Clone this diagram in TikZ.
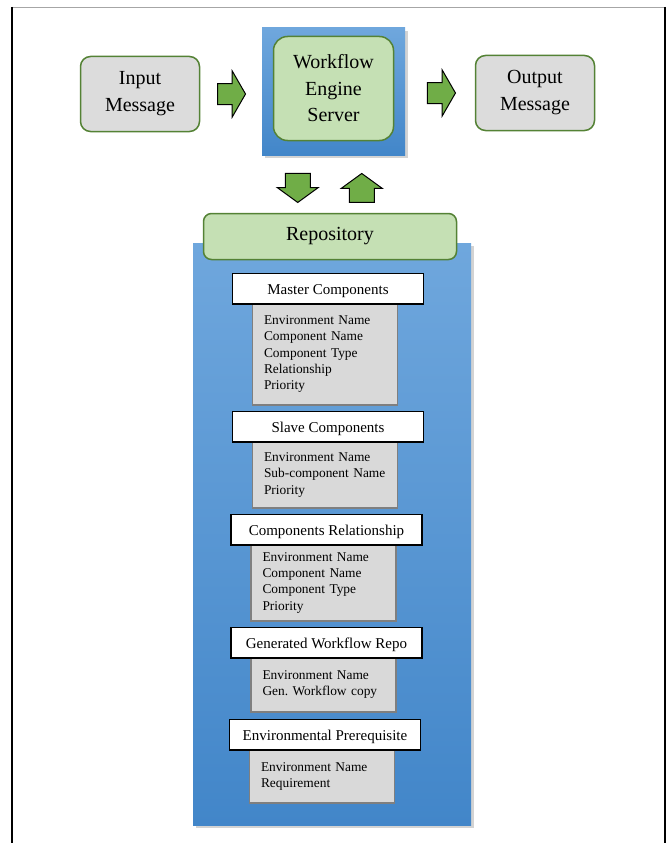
\documentclass[tikz,border=0pt]{standalone}
\usepackage{fontspec}
\setmainfont{Liberation Serif}
\usepackage{xcolor}
\usetikzlibrary{positioning, calc, shapes.arrows, shadows}
\definecolor{framegreen}{HTML}{548235}
\definecolor{softgreen}{HTML}{C5E0B4}
\definecolor{arrowgreen}{HTML}{70AD47}
\definecolor{msggray}{HTML}{DCDCDC}
\definecolor{fieldgray}{HTML}{D9D9D9}
\definecolor{fieldborder}{HTML}{7F7F7F}
\definecolor{bluetop}{HTML}{6FA7DD}
\definecolor{bluemid}{HTML}{5498D8}
\definecolor{bluebot}{HTML}{4286C9}
\frenchspacing

\begin{document}
\begin{tikzpicture}[
        x=1pt, y=-1pt,
        msg/.style={draw=framegreen, fill=msggray, line width=1.5pt, rounded corners=10pt, minimum width=119pt, minimum height=75pt, align=center, font=\fontsize{20}{27}\selectfont},
        engine/.style={draw=framegreen, fill=softgreen, line width=1.5pt, rounded corners=14pt, minimum width=120pt, minimum height=104pt, align=center, font=\fontsize{20}{26.5}\selectfont},
        bluepanel/.style={draw=none, top color=bluetop, middle color=bluemid, bottom color=bluebot, drop shadow={shadow xshift=3pt, shadow yshift=-3pt, opacity=0.35}},
        repohead/.style={draw=framegreen, fill=softgreen, line width=1.5pt, rounded corners=8pt, minimum width=253pt, minimum height=46pt, font=\fontsize{20}{24}\selectfont},
        header/.style={draw=black, fill=white, line width=1.5pt, minimum width=191pt, minimum height=30.5pt, text height=11pt, text depth=0pt, font=\fontsize{15}{18}\selectfont},
        field/.style={draw=fieldborder, fill=fieldgray, line width=1.5pt, minimum width=145pt, text width=122pt, align=left, inner xsep=0pt, anchor=north, font=\fontsize{13.4}{16.3}\selectfont},
        harrow/.style={single arrow, anchor=tail, draw=black, fill=arrowgreen, line width=1pt, minimum height=28pt, inner xsep=0pt, inner ysep=10pt, single arrow head extend=12.5pt, single arrow tip angle=120},
        varrow/.style={single arrow, anchor=tail, draw=black, fill=arrowgreen, line width=1pt, minimum height=29pt, inner xsep=0pt, inner ysep=12pt, single arrow head extend=8pt, single arrow tip angle=108}
    ]
        \useasboundingbox (0,0) rectangle (670,843);
        % page frame
        \draw[black!35, line width=0.6pt] (12,7) -- (665,7);
        \draw[line width=1.5pt] (12,7) -- (12,843);
        \draw[line width=1.5pt] (665,7) -- (665,843);

        % top row
        \node[bluepanel, minimum width=143pt, minimum height=127pt] (serverbg) at (333.5,91.5) {};
        \node[engine] (server) at (333.5,88.5) {Workflow\\Engine\\Server};
        \node[msg] (input) at (140,94) {Input\\Message};
        \node[msg] (output) at (535,93) {Output\\Message};

        \node[harrow] (toserver) at ([xshift=-14pt]$(input.east)!0.5!(input.east -| serverbg.west)$) {};
        \node[harrow] (tooutput) at ([xshift=-13pt]$(output.west)!0.5!(output.west -| serverbg.east)$) {};

        % repository
        \node[bluepanel, minimum width=278pt, minimum height=582pt] (repobg) at (332,534) {};
        \node[repohead] (repo) at (330,236.5) {Repository};

        \coordinate (downpos) at ([xshift=-34pt, yshift=11pt]$(serverbg.south)!0.5!(repo.north)$);
        \coordinate (uppos) at ([xshift=30pt, yshift=-19pt]$(serverbg.south)!0.5!(repo.north)$);
        \node[varrow, rotate=-90] (torepo) at (downpos) {};
        \node[varrow, rotate=90] (fromrepo) at (uppos) {};

        % tables
        \node[field, minimum height=101pt] (masterf) at (325,303) {Environment Name\\Component Name\\Component Type\\Relationship\\Priority};
        \node[field, minimum height=66pt] (slavef) at (325,441) {Environment Name\\Sub-component Name\\Priority};
        \node[field, minimum height=76pt] (relf) at (323.5,544) {Environment Name\\Component Name\\Component Type\\Priority};
        \node[field, minimum height=54pt] (genf) at (323.5,657) {Environment Name\\Gen. Workflow copy};
        \node[field, minimum height=53pt] (prereqf) at (322,749) {Environment Name\\Requirement};

        \node[header, above=-1.5pt of masterf, xshift=3pt] (master) {Master Components};
        \node[header, above=-1.5pt of slavef, xshift=3pt] (slave) {Slave Components};
        \node[header, above=-1.5pt of relf, xshift=3pt] (rel) {Components Relationship};
        \node[header, above=-1.5pt of genf, xshift=3pt] (gen) {Generated Workflow Repo};
        \node[header, above=-1.5pt of prereqf, xshift=3pt] (prereq) {Environmental Prerequisite};
    \end{tikzpicture}
\end{document}
